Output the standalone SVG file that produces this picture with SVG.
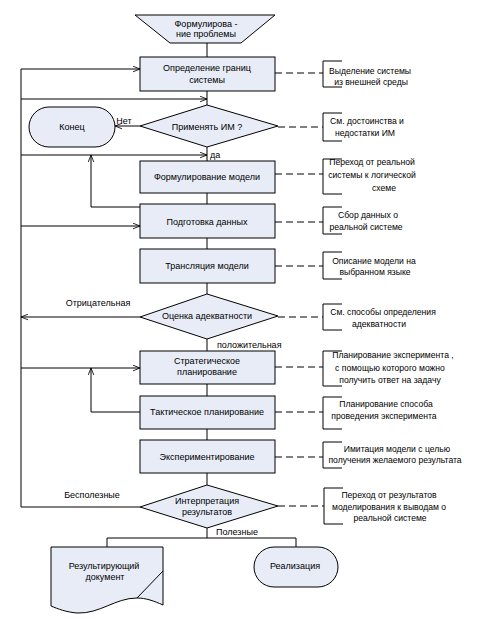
<svg xmlns="http://www.w3.org/2000/svg" width="495" height="629" viewBox="0 0 495 629">
<defs>
<style>
.s{fill:#e7ecf7;stroke:#000;stroke-width:1}
.c{fill:none;stroke:#000;stroke-width:1}
.d{fill:none;stroke:#000;stroke-width:1;stroke-dasharray:7,4}
.b{fill:none;stroke:#000;stroke-width:1}
text{font-family:"Liberation Sans",Arial,sans-serif;font-size:9px;fill:#000}
.m{text-anchor:middle}
.a{font-size:8.6px;text-anchor:middle}
</style>
<marker id="arr" viewBox="0 0 10 10" refX="10" refY="5" markerWidth="7" markerHeight="7" orient="auto" markerUnits="userSpaceOnUse">
<path d="M0,1 L10,5 L0,9" fill="none" stroke="#000" stroke-width="1.2"/>
</marker>
</defs>
<rect width="495" height="629" fill="#fff"/>

<g id="connectors">
<path class="c" d="M207,43 V57"/>
<path class="c" d="M207,91 V105"/>
<path class="c" d="M140,126 H115" marker-end="url(#arr)"/>
<path class="c" d="M207,147 V161"/>
<path class="c" d="M21,69 H140" marker-end="url(#arr)"/>
<path class="c" d="M21,99 H207" marker-end="url(#arr)"/>
<path class="c" d="M21,155 H207" marker-end="url(#arr)"/>
<path class="c" d="M207,193 V204"/>
<path class="c" d="M140,207 H91 V155" marker-end="url(#arr)"/>
<path class="c" d="M21,226 H140" marker-end="url(#arr)"/>
<path class="c" d="M207,238 V249"/>
<path class="c" d="M207,283 V294"/>
<path class="c" d="M140,317 H21" marker-end="url(#arr)"/>
<path class="c" d="M207,339 V351"/>
<path class="c" d="M21,368 H140" marker-end="url(#arr)"/>
<path class="c" d="M140,412 H91 V368" marker-end="url(#arr)"/>
<path class="c" d="M207,384 V396"/>
<path class="c" d="M207,429 V440"/>
<path class="c" d="M207,473 V485"/>
<path class="c" d="M140,507 H21 V69"/>
<path class="c" d="M207,528 V538 M107,547 V538 H296 V547"/>
<path class="d" d="M275,73 H323"/>
<path class="d" d="M278,127 H323"/>
<path class="d" d="M275,174 H323"/>
<path class="d" d="M275,222 H323"/>
<path class="d" d="M275,266 H323"/>
<path class="d" d="M278,317 H323"/>
<path class="d" d="M275,367 H323"/>
<path class="d" d="M275,412 H323"/>
<path class="d" d="M275,457 H323"/>
<path class="d" d="M278,506 H324"/>
<text x="124" y="124" class="m">Нет</text>
<text x="210" y="158">да</text>
<text x="98" y="306" class="m">Отрицательная</text>
<text x="217" y="348">положительная</text>
<text x="92" y="498" class="m">Бесполезные</text>
<text x="216" y="535">Полезные</text>
</g>

<g id="n-problem">
<polygon class="s" points="135,15 275,15 241,43 170,43"/>
<text x="206" y="27" class="m">Формулирова -</text>
<text x="206" y="37" class="m">ние проблемы</text>
</g>
<g id="n-bounds">
<rect class="s" x="140" y="57" width="135" height="34"/>
<text x="207" y="71" class="m">Определение границ</text>
<text x="207" y="83" class="m">системы</text>
</g>
<g id="n-apply">
<polygon class="s" points="207,105 278,126 207,147 140,126"/>
<text x="207" y="130" class="m">Применять  ИМ ?</text>
</g>
<g id="n-end">
<rect class="s" x="29" y="107" width="86" height="40" rx="20" ry="20"/>
<text x="72" y="130" class="m">Конец</text>
</g>
<g id="n-formulate">
<rect class="s" x="140" y="161" width="135" height="32"/>
<text x="207" y="180" class="m">Формулирование модели</text>
</g>
<g id="n-data">
<rect class="s" x="140" y="204" width="135" height="34"/>
<text x="207" y="225" class="m">Подготовка данных</text>
</g>
<g id="n-translate">
<rect class="s" x="140" y="249" width="135" height="34"/>
<text x="207" y="269" class="m">Трансляция модели</text>
</g>
<g id="n-adequacy">
<polygon class="s" points="207,294 278,316 207,339 140,317"/>
<text x="207" y="319" class="m">Оценка адекватности</text>
</g>
<g id="n-strategic">
<rect class="s" x="140" y="351" width="135" height="33"/>
<text x="207" y="364" class="m">Стратегическое</text>
<text x="207" y="375" class="m">планирование</text>
</g>
<g id="n-tactical">
<rect class="s" x="140" y="396" width="135" height="33"/>
<text x="207" y="415" class="m">Тактическое планирование</text>
</g>
<g id="n-experiment">
<rect class="s" x="140" y="440" width="135" height="33"/>
<text x="207" y="460" class="m">Экспериментирование</text>
</g>
<g id="n-interpret">
<polygon class="s" points="207,485 278,506 207,528 140,507"/>
<text x="207" y="504" class="m">Интерпретация</text>
<text x="207" y="515" class="m">результатов</text>
</g>
<g id="n-document">
<path class="s" d="M51,547 H163 V605 C154,601 146,598 137,598 C115,598 100,614 77,613 C66,612 58,609 51,606 Z"/>
<path class="c" d="M163,571 L137,598"/>
<text x="104" y="569" class="m">Результирующий</text>
<text x="105" y="580" class="m">документ</text>
</g>
<g id="n-realization">
<rect class="s" x="254" y="547" width="84" height="40" rx="20" ry="20"/>
<text x="295" y="569" class="m">Реализация</text>
</g>

<g id="notes">
<g id="note1"><path class="b" d="M342,61 H323 V87 H342"/>
<text x="370" y="74" class="a">Выделение системы</text><text x="371" y="85" class="a">из внешней среды</text></g>
<g id="note2"><path class="b" d="M342,113 H323 V141 H342"/>
<text x="367" y="124" class="a">См. достоинства и</text><text x="365" y="136" class="a">недостатки ИМ</text></g>
<g id="note3"><path class="b" d="M342,159 H323 V194 H342"/>
<text x="372" y="165" class="a">Переход от реальной</text><text x="372" y="178" class="a">системы к логической</text><text x="384" y="191" class="a">схеме</text></g>
<g id="note4"><path class="b" d="M342,207 H323 V234 H342"/>
<text x="368" y="218" class="a">Сбор данных о</text><text x="366" y="230" class="a">реальной системе</text></g>
<g id="note5"><path class="b" d="M342,252 H323 V279 H342"/>
<text x="374" y="264" class="a">Описание модели на</text><text x="375" y="275" class="a">выбранном языке</text></g>
<g id="note6"><path class="b" d="M342,304 H323 V330 H342"/>
<text x="383" y="315" class="a">См. способы определения</text><text x="379" y="327" class="a">адекватности</text></g>
<g id="note7"><path class="b" d="M342,351 H323 V386 H342"/>
<text x="393" y="358" class="a">Планирование эксперимента  ,</text><text x="390" y="371" class="a">с помощью которого можно</text><text x="390" y="383" class="a">получить ответ на задачу</text></g>
<g id="note8"><path class="b" d="M342,397 H323 V429 H342"/>
<text x="386" y="407" class="a">Планирование способа</text><text x="384" y="419" class="a">проведения эксперимента</text></g>
<g id="note9"><path class="b" d="M342,442 H323 V468 H342"/>
<text x="397" y="452" class="a">Имитация модели с целью</text><text x="395" y="463" class="a">получения желаемого результата</text></g>
<g id="note10"><path class="b" d="M343,488 H324 V524 H343"/>
<text x="389" y="498" class="a">Переход от результатов</text><text x="389" y="510" class="a">моделирования к выводам о</text><text x="390" y="521" class="a">реальной системе</text></g>
</g>
</svg>
